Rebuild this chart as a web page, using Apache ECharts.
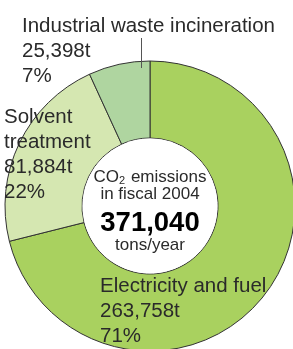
<!DOCTYPE html>
<html>
<head>
<meta charset="utf-8">
<style>
  html, body { margin: 0; padding: 0; background: #fff; }
  #chart { width: 293px; height: 349px; }
</style>
<script src="https://cdn.jsdelivr.net/npm/echarts@6/dist/echarts.min.js"></script>
</head>
<body>
<div id="chart"></div>
<script>
// CO2 emissions by source, fiscal 2004 (tons)
const categories = ['Electricity and fuel', 'Solvent treatment', 'Industrial waste incineration']
const values = [263758, 81884, 25398]
const colors = ['#a9d15f', '#d5e7b1', '#afd5a0']
// where each label block starts (left, top)
const labelPos = [[100, 274], [4, 105], [22, 14]]

const total = values.reduce((a, b) => a + b, 0)

const chart = echarts.init(document.getElementById('chart'))

const option = {
  backgroundColor: '#fff',
  animation: false,
  graphic: [
    {
      // leader line for the small slice
      type: 'line',
      shape: { x1: 141.5, y1: 38, x2: 141.5, y2: 68 },
      style: { stroke: '#555', lineWidth: 1 },
      z: 10
    }
  ],
  series: [
    {
      type: 'pie',
      center: [150, 206],
      radius: [68, 145],
      startAngle: 90,
      clockwise: true,
      percentPrecision: 0,
      silent: true,
      itemStyle: { borderColor: '#333', borderWidth: 1 },
      labelLine: { show: false },
      label: {
        position: 'inside',
        overflow: 'none',
        fontFamily: 'Liberation Sans, Arial, sans-serif',
        fontSize: 20.5,
        lineHeight: 25,
        color: '#2a2a2a',
        formatter: p => p.name + '\n' + p.value.toLocaleString('en-US') + 't\n' + p.percent + '%'
      },
      labelLayout: p => ({
        x: labelPos[p.dataIndex][0],
        y: labelPos[p.dataIndex][1],
        align: 'left',
        verticalAlign: 'top'
      }),
      data: categories.map((name, i) => ({
        name: name,
        value: values[i],
        itemStyle: { color: colors[i] },
        label: i === 1 ? { width: 130, overflow: 'break' } : {}
      }))
    },
    {
      type: 'pie',
      center: [150, 206],
      radius: [0, 67.5],
      silent: true,
      itemStyle: { color: '#fff' },
      labelLine: { show: false },
      label: {
        position: 'center',
        offset: [0, 2],
        fontFamily: 'Liberation Sans, Arial, sans-serif',
        color: '#2a2a2a',
        formatter: p => '{t|CO}{s|2}{t| emissions}\n{t|in fiscal 2004}\n{b|' +
          p.value.toLocaleString('en-US') + '}\n{u|tons/year}',
        rich: {
          t: { fontSize: 17, lineHeight: 17, color: '#2a2a2a', fontFamily: 'Liberation Sans, Arial, sans-serif' },
          s: { fontSize: 11, lineHeight: 17, color: '#2a2a2a', verticalAlign: 'bottom', padding: [0, 1, 0, 0], fontFamily: 'Liberation Sans, Arial, sans-serif' },
          b: { fontSize: 27.5, lineHeight: 40, fontWeight: 'bold', color: '#000', fontFamily: 'Liberation Sans, Arial, sans-serif' },
          u: { fontSize: 17, lineHeight: 4, color: '#2a2a2a', fontFamily: 'Liberation Sans, Arial, sans-serif' }
        }
      },
      data: [{ name: 'total', value: total }]
    }
  ]
}

chart.setOption(option)
</script>
</body>
</html>
